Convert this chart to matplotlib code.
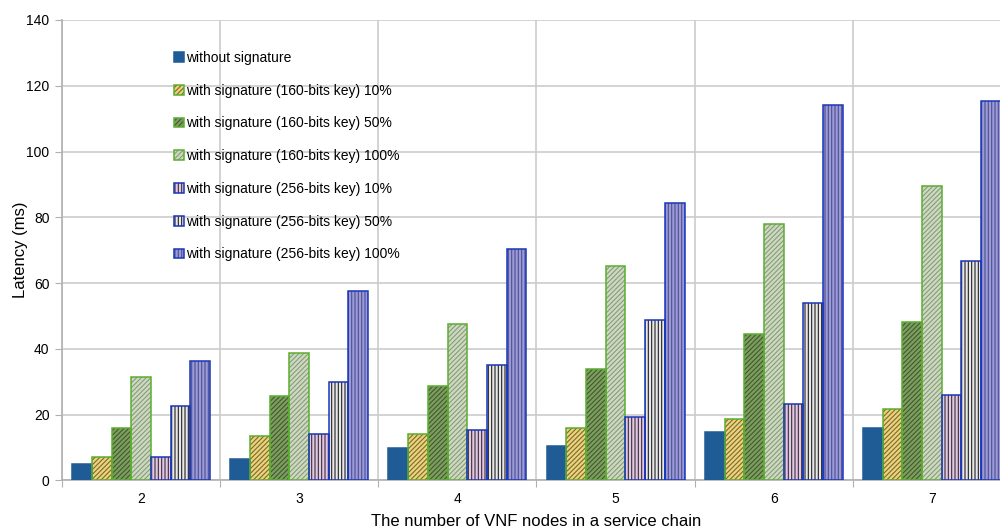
import numpy as np
import matplotlib.pyplot as plt
from matplotlib.patches import Patch
from matplotlib.legend_handler import HandlerTuple

nodes = ['2', '3', '4', '5', '6', '7']

without_sig = [5.0, 6.5, 9.8, 10.5, 14.7, 16.1]
sig160_10 = [7.0, 13.5, 14.2, 16.1, 18.6, 21.8]
sig160_50 = [16.0, 25.6, 28.8, 33.9, 44.4, 48.3]
sig160_100 = [31.6, 38.9, 47.5, 65.2, 78.1, 89.6]
sig256_10 = [7.2, 14.2, 15.4, 19.4, 23.3, 26.1]
sig256_50 = [22.7, 29.9, 35.1, 48.8, 53.9, 66.7]
sig256_100 = [36.2, 57.6, 70.5, 84.3, 114.2, 115.5]

labels = ['without signature',
          'with signature (160-bits key) 10%',
          'with signature (160-bits key) 50%',
          'with signature (160-bits key) 100%',
          'with signature (256-bits key) 10%',
          'with signature (256-bits key) 50%',
          'with signature (256-bits key) 100%']

series = [without_sig, sig160_10, sig160_50, sig160_100, sig256_10, sig256_50, sig256_100]

# (fill, hatch colour, hatch, outline)
styles = [
    ('#1f5b94', '#1f5b94', None, '#1f5b94'),
    ('#ecd27a', '#7a6a30', '///////', '#5aae2e'),
    ('#7e9e60', '#3f5a2c', '///////', '#5aae2e'),
    ('#ccdabe', '#8a9a80', '///////', '#5aae2e'),
    ('#e6c6e6', '#333333', '|||||', '#1a36b8'),
    ('#e8e8e8', '#222222', '|||||', '#1a36b8'),
    ('#9a9ad8', '#505090', '|||||', '#1a36b8'),
]

plt.rcParams['font.family'] = ['Liberation Sans', 'DejaVu Sans']
plt.rcParams['hatch.linewidth'] = 0.8

fig = plt.figure(figsize=(10, 5.3), dpi=100)
ax = fig.add_axes([0.062, 0.0934, 0.949, 0.869])

x = np.arange(len(nodes))
w = 0.1245
handles = []
for i, (vals, (fc, hc, hatch, ec)) in enumerate(zip(series, styles)):
    pos = x + (i - 3) * w
    ax.bar(pos, vals, w, color=fc, edgecolor=hc, hatch=hatch, linewidth=0, zorder=3)
    ax.bar(pos, vals, w, facecolor='none', edgecolor=ec, linewidth=1.1, zorder=4)
    h1 = Patch(facecolor=fc, edgecolor=hc, hatch=hatch, linewidth=0)
    h2 = Patch(facecolor='none', edgecolor=ec, linewidth=1.1)
    handles.append((h1, h2))

ax.set_xlim(-0.5, len(nodes) - 0.5)
ax.set_ylim(0, 140)
ax.set_yticks(np.arange(0, 141, 20))
ax.set_xticks(np.arange(-0.5, len(nodes), 1.0))
ax.set_xticklabels([])
ax.set_xticks(x, minor=True)
ax.set_xticklabels(nodes, minor=True)
ax.tick_params(axis='x', which='minor', length=0, pad=8, labelsize=10)
ax.tick_params(axis='both', which='major', length=5, color='#b0b0b0', labelsize=10)
ax.tick_params(axis='y', pad=4)

ax.grid(True, which='major', color='#cccccc', linewidth=1.2, zorder=0)
ax.set_axisbelow(True)
for s in ['top', 'right']:
    ax.spines[s].set_visible(False)
for s in ['left', 'bottom']:
    ax.spines[s].set_color('#b0b0b0')
    ax.spines[s].set_linewidth(1.2)

ax.set_ylabel('Latency (ms)', fontsize=12)
ax.yaxis.set_label_coords(-0.036, 0.5)
ax.set_xlabel('The number of VNF nodes in a service chain', fontsize=12, labelpad=6)

ax.legend(handles, labels, loc='upper left', bbox_to_anchor=(0.105, 0.96),
          frameon=False, fontsize=10, handlelength=0.7, handleheight=0.7,
          handletextpad=0.15, labelspacing=1.35,
          handler_map={tuple: HandlerTuple(ndivide=1)})

fig.savefig('out.png', dpi=100)
